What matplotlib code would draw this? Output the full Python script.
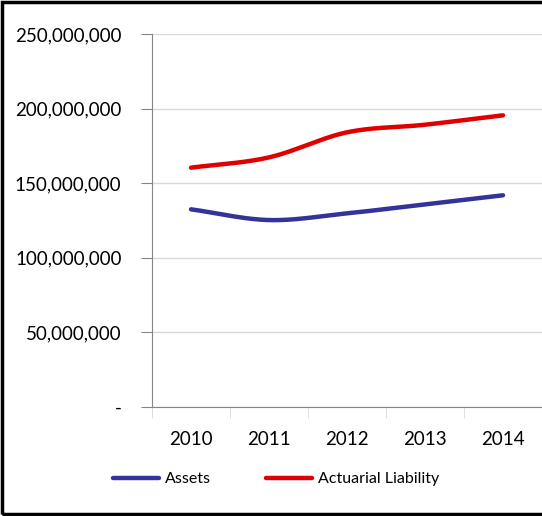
import numpy as np
import matplotlib
matplotlib.use("Agg")
from matplotlib import pyplot as plt
from matplotlib.ticker import FuncFormatter, MultipleLocator

plt.rcParams['font.family'] = ['Lato', 'DejaVu Sans']

years = ["2010", "2011", "2012", "2013", "2014"]
assets = [132.5e6, 125.3e6, 129.8e6, 135.8e6, 141.9e6]
liability = [160.4e6, 167.3e6, 184.1e6, 189.2e6, 195.5e6]
labels = ["Assets", "Actuarial Liability"]
colors = ["#333399", "#E00000"]


def smooth(y, n=40):
    # curva tipo Excel (Catmull-Rom) passante per i punti
    y = np.asarray(y, dtype=float)
    x = np.arange(len(y), dtype=float)
    px = np.concatenate([[2 * x[0] - x[1]], x, [2 * x[-1] - x[-2]]])
    py = np.concatenate([[2 * y[0] - y[1]], y, [2 * y[-1] - y[-2]]])
    xs, ys = [], []
    for i in range(1, len(px) - 2):
        t = np.linspace(0, 1, n)
        for arr, p in ((xs, px), (ys, py)):
            p0, p1, p2, p3 = p[i - 1], p[i], p[i + 1], p[i + 2]
            arr.append(0.5 * (2 * p1 + (-p0 + p2) * t
                              + (2 * p0 - 5 * p1 + 4 * p2 - p3) * t ** 2
                              + (-p0 + 3 * p1 - 3 * p2 + p3) * t ** 3))
    return np.concatenate(xs), np.concatenate(ys)


fig = plt.figure(figsize=(5.42, 5.16), dpi=100)
ax = fig.add_axes([152 / 542, 1 - 407 / 516, 390 / 542, 373 / 516])

for serie, lab, col in zip([assets, liability], labels, colors):
    sx, sy = smooth(serie)
    ax.plot(sx, sy, color=col, lw=3.2, solid_capstyle='round', label=lab)

ax.set_xlim(-0.5, 4.5)
ax.set_ylim(0, 250e6)
ax.yaxis.set_major_locator(MultipleLocator(50e6))
ax.yaxis.set_major_formatter(FuncFormatter(lambda v, p: "-" if v == 0 else f"{v:,.0f}"))
ax.set_xticks(range(len(years)))
ax.set_xticklabels(years)
ax.set_xticks(np.arange(-0.5, 5, 1), minor=True)

ax.grid(axis='y', color='#d9d9d9', lw=1)
ax.set_axisbelow(True)
for s in ['top', 'right']:
    ax.spines[s].set_visible(False)
ax.spines['left'].set_color('#868686')
ax.spines['bottom'].set_color('#868686')
ax.tick_params(axis='y', length=8, color='#868686', labelsize=13.5, pad=14)
ax.tick_params(axis='x', which='major', length=0, labelsize=13.5, pad=17)
ax.tick_params(axis='x', which='minor', length=8, color='#d9d9d9')

fig.legend(loc='center', bbox_to_anchor=(276 / 542, 1 - 479 / 516), ncol=2,
           frameon=False, fontsize=11.5, handlelength=2.9, handletextpad=0.4,
           columnspacing=3.4)

fig.patches.append(plt.Rectangle((0.004, 0.004), 1.1, 0.992, transform=fig.transFigure,
                                 fill=False, edgecolor='black', lw=2.5))

fig.savefig("out.png", dpi=100)
